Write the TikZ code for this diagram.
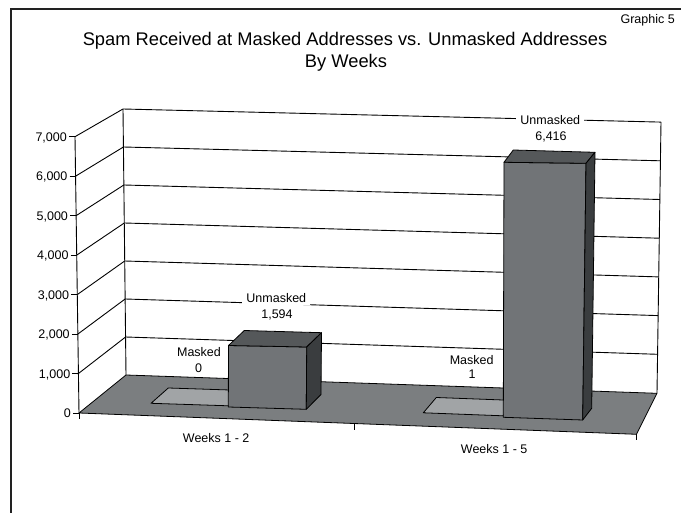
\documentclass[tikz,border=0pt]{standalone}
\usepackage{fontspec}
\setmainfont{Liberation Sans}
\definecolor{floorgray}{HTML}{7B7E80}
\definecolor{barfront}{HTML}{717477}
\definecolor{bartop}{HTML}{55585A}
\definecolor{barside}{HTML}{3A3D3F}
\definecolor{maskgray}{HTML}{A1A4A6}
\definecolor{framegray}{HTML}{222222}
\tikzset{
  gridln/.style={black, line width=0.9pt},
  edge/.style={draw=black, line width=0.8pt, line join=round},
  lbl/.style={font=\fontsize{12.5}{15}\selectfont, inner sep=0pt},
  vlab/.style={lbl, anchor=base},
  ttl/.style={font=\fontsize{18.3}{22}\selectfont, inner sep=0pt, anchor=base},
}
\begin{document}
\begin{tikzpicture}[x=1pt, y=-1pt]
\useasboundingbox (0,0) rectangle (681,513);
% frame
\draw[framegray, line width=2pt] (11,513) -- (11,9) -- (681,9);
% title
\node[ttl] (title1) at (345,46) {Spam Received at Masked Addresses vs. Unmasked Addresses};
\node[ttl] (title2) at (346,67.5) {By Weeks};
\node[lbl, anchor=base east] (graphic) at (675,24) {Graphic 5};
% walls and gridlines
\foreach \v in {1,...,7} {
  \draw[gridln] ({79-4*\v/7},{413-39.47*\v}) -- ({126-3*\v/7},{375-38*\v}) -- ({657+4*\v/7},{393-38.7*\v});
  \draw[gridln] ({79-4*\v/7-6},{413-39.47*\v}) -- ({79-4*\v/7},{413-39.47*\v});
}
\draw[gridln] (73,413) -- (79,413);
\draw[gridln] (79,413) -- (75,136.7);
\draw[gridln] (126,375) -- (123,109);
\draw[gridln] (657,393) -- (661,122.1);
% floor
\filldraw[fill=floorgray, edge] (79,413) -- (126,375) -- (657,393.3) -- (636.5,434.3) -- cycle;
% x ticks
\draw[gridln] (79,413) -- (79,419);
\draw[gridln] (354,423.4) -- (354,430);
\draw[gridln] (636.5,434.3) -- (636.5,440.5);
% y labels
\foreach \v/\t in {0/0,1/{1,000},2/{2,000},3/{3,000},4/{4,000},5/{5,000},6/{6,000},7/{7,000}} {
  \node[lbl, anchor=base east] (ylab\v) at ({79-4*\v/7-8},{413-39.47*\v+4.5}) {\t};
}
% masked bar weeks 1-2
\filldraw[fill=maskgray, edge] (151,403.3) -- (228.5,405.8) -- (245.5,390.5) -- (168.3,388) -- cycle;
% unmasked bar weeks 1-2
\filldraw[fill=barfront, edge] (228.3,407) -- (306.3,409.3) -- (306.7,347) -- (228.5,345.5) -- cycle;
\filldraw[fill=bartop, edge] (228.5,345.5) -- (306.7,347) -- (321.5,332.7) -- (244.3,330.5) -- cycle;
\filldraw[fill=barside, edge] (306.7,347) -- (306.3,409.3) -- (321,394.5) -- (321.5,332.7) -- cycle;
% masked bar weeks 1-5
\filldraw[fill=maskgray, edge] (423.3,412.8) -- (503,415.8) -- (516.5,400.5) -- (436.3,397.5) -- cycle;
% unmasked bar weeks 1-5
\filldraw[fill=barfront, edge] (503.3,417.3) -- (582.7,420) -- (586,163.3) -- (504,162.3) -- cycle;
\filldraw[fill=bartop, edge] (504,162.3) -- (586,163.3) -- (595,152.3) -- (513.3,150) -- cycle;
\filldraw[fill=barside, edge] (586,163.3) -- (582.7,420) -- (591.7,408.3) -- (595,152.3) -- cycle;
% data labels
\node[vlab, fill=white, inner xsep=4pt, inner ysep=1.5pt] (um1) at (276.3,303) {Unmasked};
\node[vlab] (uv1) at (277,318.5) {1,594};
\node[vlab] (mk1) at (199,356.7) {Masked};
\node[vlab] (mv1) at (198.7,372.7) {0};
\node[vlab, fill=white, inner xsep=4pt, inner ysep=1.5pt] (um2) at (550.3,125) {Unmasked};
\node[vlab] (uv2) at (551,141) {6,416};
\node[vlab] (mk2) at (471.7,365) {Masked};
\node[vlab] (mv2) at (472,378.3) {1};
% category labels
\node[vlab] (cat1) at (216.2,442.7) {Weeks 1 - 2};
\node[vlab] (cat2) at (494.2,453.3) {Weeks 1 - 5};
\end{tikzpicture}
\end{document}
